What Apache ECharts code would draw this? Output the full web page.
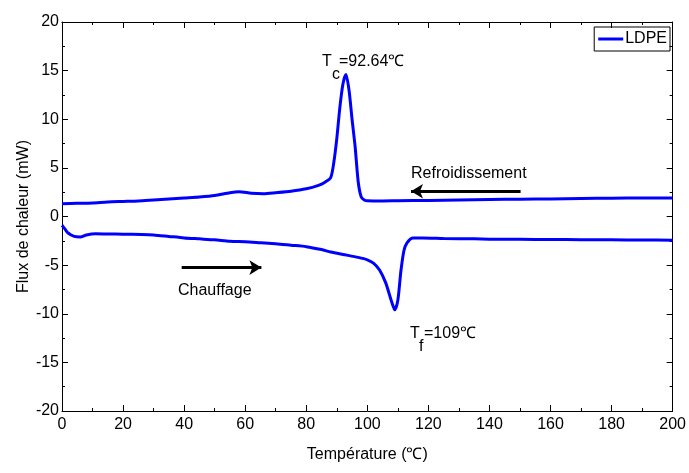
<!DOCTYPE html>
<html>
<head>
<meta charset="utf-8">
<script src="https://cdn.jsdelivr.net/npm/echarts@6/dist/echarts.min.js"></script>
<style>html,body{margin:0;padding:0;background:#fff;}#c{width:689px;height:473px;}</style>
</head>
<body>
<div id="c"></div>
<script>
// Cooling curve (Refroidissement)
const coolX = [0,5,10,15,20,25,30,35,40,45,50,55,58,62,66,70,75,80,84,86,88,89,90,91,92,93,94,95,96,97,98,99,100,105,110,120,130,140,150,160,170,180,190,200];
const coolY = [1.3,1.35,1.4,1.5,1.55,1.6,1.7,1.8,1.9,2.0,2.15,2.45,2.55,2.4,2.35,2.45,2.6,2.85,3.2,3.5,4.0,5.5,8.0,11.2,13.6,14.6,13.0,10.0,7.2,3.6,2.0,1.7,1.62,1.6,1.62,1.65,1.7,1.75,1.78,1.8,1.85,1.88,1.9,1.9];
// Heating curve (Chauffage)
const heatX = [0,1,2,4,6,8,11,15,20,26,30,35,40,45,50,55,60,65,70,75,80,85,88,92,97,100,102,104,106,108,109,110,111,112,113,115,118,125,135,140,150,160,170,180,190,200];
const heatY = [-0.9,-1.3,-1.7,-2.05,-2.1,-1.9,-1.78,-1.8,-1.82,-1.85,-1.9,-2.05,-2.2,-2.3,-2.4,-2.55,-2.6,-2.7,-2.8,-2.95,-3.1,-3.4,-3.65,-3.9,-4.2,-4.45,-4.8,-5.5,-6.8,-8.8,-9.6,-8.6,-5.6,-3.5,-2.7,-2.2,-2.2,-2.25,-2.3,-2.33,-2.35,-2.37,-2.38,-2.4,-2.42,-2.43];
// Arrows [x0, y0, x1, y1]
const arrowCool = [150.2, 2.6, 114.3, 2.6];
const arrowHeat = [39.2, -5.25, 65.3, -5.25];
const seriesName = 'LDPE';
const xTitle = 'Température (℃)';
const yTitle = 'Flux de chaleur (mW)';

const FONT = 'Liberation Sans, Arial, sans-serif';
const chart = echarts.init(document.getElementById('c'));
const pair = (xs, ys) => xs.map((x, i) => [x, ys[i]]);

const axisCommon = {
  axisLine: { show: true, onZero: false, lineStyle: { color: '#000', width: 1 } },
  axisTick: { show: true, inside: true, length: 6, lineStyle: { color: '#000' } },
  minorTick: { show: true, splitNumber: 2, length: 3, lineStyle: { color: '#000' } },
  splitLine: { show: false }
};

chart.setOption({
  animation: false,
  backgroundColor: '#fff',
  textStyle: { fontFamily: FONT },
  grid: { left: 62, right: 14, top: 22, bottom: 62 },
  legend: {
    data: [seriesName],
    right: 19, top: 27,
    orient: 'vertical',
    borderColor: '#000', borderWidth: 1, borderRadius: 0,
    padding: [4, 3, 4, 4],
    itemWidth: 25, itemHeight: 3, itemGap: 0,
    icon: 'rect',
    textStyle: { fontSize: 16, color: '#000', fontFamily: FONT, padding: [0, 0, 0, -3] }
  },
  xAxis: [
    Object.assign({}, axisCommon, {
      type: 'value', min: 0, max: 200, interval: 20, position: 'bottom',
      axisLabel: { fontSize: 16, color: '#000', margin: 6, fontFamily: FONT },
      name: xTitle, nameLocation: 'middle', nameGap: 36, nameMoveOverlap: false,
      nameTextStyle: { fontSize: 16, color: '#000', fontFamily: FONT }
    }),
    Object.assign({}, axisCommon, {
      type: 'value', min: 0, max: 200, interval: 20, position: 'top',
      axisLabel: { show: false }
    })
  ],
  yAxis: [
    Object.assign({}, axisCommon, {
      type: 'value', min: -20, max: 20, interval: 5, position: 'left',
      axisLabel: { fontSize: 16, color: '#000', margin: 3, fontFamily: FONT },
      name: yTitle, nameLocation: 'middle', nameGap: 30, nameMoveOverlap: false,
      nameTextStyle: { fontSize: 16, color: '#000', fontFamily: FONT }
    }),
    Object.assign({}, axisCommon, {
      type: 'value', min: -20, max: 20, interval: 5, position: 'right',
      axisLabel: { show: false }
    })
  ],
  series: [
    {
      name: seriesName, type: 'line', data: pair(coolX, coolY),
      showSymbol: false, smooth: 0.25,
      lineStyle: { color: '#0000ff', width: 3 }, itemStyle: { color: '#0000ff' },
      markLine: {
        silent: true, symbol: ['none', 'arrow'], symbolSize: [11, 12],
        lineStyle: { color: '#000', width: 3, type: 'solid' },
        label: { show: false },
        data: [
          [{ coord: [arrowCool[0], arrowCool[1]] }, { coord: [arrowCool[2], arrowCool[3]] }],
          [{ coord: [arrowHeat[0], arrowHeat[1]] }, { coord: [arrowHeat[2], arrowHeat[3]] }]
        ]
      }
    },
    {
      name: seriesName, type: 'line', data: pair(heatX, heatY),
      showSymbol: false, smooth: 0.25,
      lineStyle: { color: '#0000ff', width: 3 }, itemStyle: { color: '#0000ff' }
    }
  ],
  graphic: [
    { type: 'text', left: 322, top: 54, style: { text: 'T', font: '16px ' + FONT, fill: '#000' } },
    { type: 'text', left: 332, top: 67, style: { text: 'c', font: '16px ' + FONT, fill: '#000' } },
    { type: 'text', left: 339, top: 54, style: { text: '=92.64℃', font: '16px ' + FONT, fill: '#000' } },
    { type: 'text', left: 410, top: 326, style: { text: 'T', font: '16px ' + FONT, fill: '#000' } },
    { type: 'text', left: 419, top: 339, style: { text: 'f', font: '16px ' + FONT, fill: '#000' } },
    { type: 'text', left: 424, top: 326, style: { text: '=109℃', font: '16px ' + FONT, fill: '#000' } },
    { type: 'text', left: 411, top: 166, style: { text: 'Refroidissement', font: '16px ' + FONT, fill: '#000' } },
    { type: 'text', left: 178, top: 283, style: { text: 'Chauffage', font: '16px ' + FONT, fill: '#000' } }
  ]
});
</script>
</body>
</html>
